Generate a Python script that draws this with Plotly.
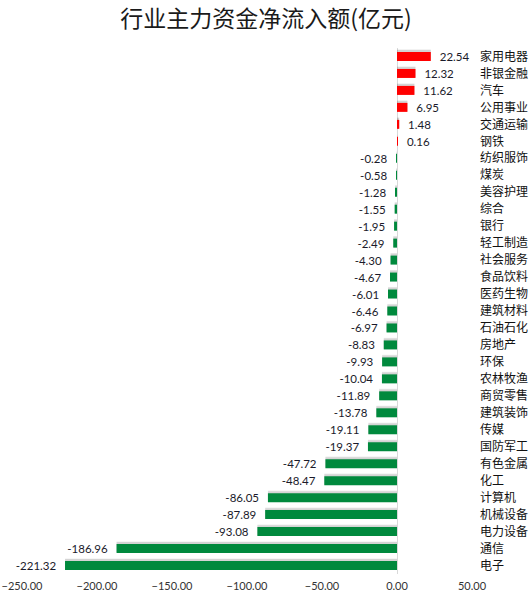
import plotly.graph_objects as go

# 行业主力资金净流入额(亿元)
industries = ['家用电器', '非银金融', '汽车', '公用事业', '交通运输', '钢铁', '纺织服饰', '煤炭',
              '美容护理', '综合', '银行', '轻工制造', '社会服务', '食品饮料', '医药生物', '建筑材料',
              '石油石化', '房地产', '环保', '农林牧渔', '商贸零售', '建筑装饰', '传媒', '国防军工',
              '有色金属', '化工', '计算机', '机械设备', '电力设备', '通信', '电子']
net_inflow = [22.54, 12.32, 11.62, 6.95, 1.48, 0.16, -0.28, -0.58, -1.28, -1.55, -1.95, -2.49,
              -4.30, -4.67, -6.01, -6.46, -6.97, -8.83, -9.93, -10.04, -11.89, -13.78, -19.11,
              -19.37, -47.72, -48.47, -86.05, -87.89, -93.08, -186.96, -221.32]
x_ticks = [-250, -200, -150, -100, -50, 0, 50]

colors = ['#FF0000' if v >= 0 else '#00893D' for v in net_inflow]
# a little padding between bar end and its label
labels = ['  %.2f' % v if v >= 0 else '%.2f  ' % v for v in net_inflow]

fig = go.Figure()

# soft shadow behind bars
for w, off, a in [(0.66, -0.42, 0.07), (0.6, -0.38, 0.10)]:
    fig.add_trace(go.Bar(
        y=industries, x=net_inflow, orientation='h',
        marker=dict(color='rgba(0,0,0,%s)' % a, line=dict(width=0)),
        width=w, offset=off, hoverinfo='skip', showlegend=False))

fig.add_trace(go.Bar(
    y=industries, x=net_inflow, orientation='h',
    marker=dict(color=colors, line=dict(width=0)),
    width=0.53, offset=-0.265,
    text=labels, textposition='outside', cliponaxis=False, constraintext='none',
    textfont=dict(family='Lato, Liberation Sans, sans-serif', size=11.5, color='#1A1A2A'),
    showlegend=False))

fig.update_layout(
    width=532, height=598,
    margin=dict(l=22, r=60, t=48, b=24),
    paper_bgcolor='white', plot_bgcolor='white',
    barmode='overlay',
    title=dict(text='行业主力资金净流入额(亿元)', xref='container', x=0.5,
               xanchor='center', yref='container', y=1 - 19 / 598, yanchor='middle',
               font=dict(family='Noto Sans CJK SC', size=23, color='#1A1A1A')),
    xaxis=dict(range=[-250, 50], tickvals=x_ticks, tickformat='.2f', showgrid=False,
               zeroline=True, zerolinecolor='#D9D9D9', zerolinewidth=1, showline=False,
               ticks='', ticklabeloverflow='allow', ticklabelstandoff=4,
               tickfont=dict(family='Lato, Liberation Sans, sans-serif', size=11, color='#333333'),
               automargin=False, fixedrange=True),
    yaxis=dict(categoryorder='array', categoryarray=industries, autorange='reversed',
               side='right', showgrid=False, showline=False, ticks='', ticklabelstandoff=7,
               ticklabeloverflow='allow',
               tickfont=dict(family='Noto Sans CJK SC', size=12, color='#111111'),
               automargin=False, fixedrange=True),
)

# drop the browser's default body margin so the figure fills the window exactly
fig.write_html("out.html", config={'displayModeBar': False},
               post_script="document.body.style.margin='0';")
